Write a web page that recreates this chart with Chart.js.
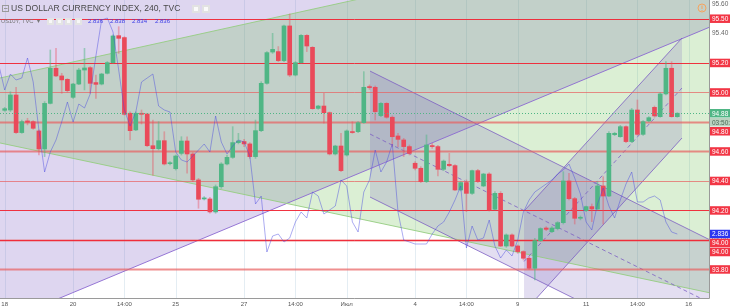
<!DOCTYPE html>
<html>
<head>
<meta charset="utf-8">
<script src="https://cdn.jsdelivr.net/npm/chart.js@4.4.1/dist/chart.umd.min.js"></script>
<style>
  html, body { margin: 0; padding: 0; background: #fff; }
  canvas { display: block; }
</style>
</head>
<body>
<canvas id="chart" width="730" height="308"></canvas>
<script>
// ---- DXY 4h candles ----
const opens = [
  94.879, 94.881, 94.983, 94.728, 94.807, 94.802, 94.739, 94.617, 94.926, 95.164,
  95.112, 95.089, 94.967, 95.057, 95.152, 95.168, 95.067, 95.057, 95.130, 95.202,
  95.385, 95.372, 94.859, 94.746, 94.859, 94.854, 94.639, 94.619, 94.673, 94.517,
  94.483, 94.587, 94.671, 94.583, 94.407, 94.278, 94.278, 94.190, 94.361, 94.515,
  94.560, 94.660, 94.667, 94.651, 94.565, 94.741, 95.062, 95.274, 95.277, 95.216,
  95.451, 95.118, 95.202, 95.387, 95.306, 94.892, 94.908, 94.863, 94.583, 94.637,
  94.576, 94.734, 94.734, 94.795, 95.039, 95.035, 94.843, 94.926, 94.832, 94.705,
  94.678, 94.633, 94.520, 94.486, 94.395, 94.639, 94.633, 94.479, 94.513, 94.504,
  94.339, 94.389, 94.316, 94.470, 94.366, 94.447, 94.208, 94.316, 93.959, 94.034,
  93.959, 93.921, 93.876, 93.808, 93.995, 94.081, 94.056, 94.077, 94.117, 94.400,
  94.280, 94.147, 94.199, 94.226, 94.210, 94.366, 94.298, 94.714, 94.700, 94.768,
  94.667, 94.881, 94.716, 94.807, 94.899, 94.836, 94.990, 95.164, 94.836
];
const highs = [
  94.899, 95.005, 95.035, 94.813, 94.825, 94.809, 94.746, 94.938, 95.288, 95.299,
  95.130, 95.094, 95.062, 95.164, 95.299, 95.175, 95.118, 95.130, 95.209, 95.390,
  95.446, 95.378, 94.868, 94.868, 94.881, 94.859, 94.813, 94.802, 94.734, 94.531,
  94.576, 94.700, 94.700, 94.592, 94.418, 94.294, 94.289, 94.373, 94.524, 94.576,
  94.768, 94.723, 94.682, 94.660, 94.813, 95.073, 95.277, 95.401, 95.311, 95.457,
  95.532, 95.209, 95.392, 95.392, 95.311, 94.913, 94.994, 94.868, 94.642, 94.723,
  94.746, 94.802, 94.802, 95.141, 95.051, 95.044, 94.931, 94.931, 94.841, 94.723,
  94.689, 94.644, 94.531, 94.497, 94.712, 94.655, 94.642, 94.542, 94.587, 94.511,
  94.395, 94.407, 94.474, 94.479, 94.452, 94.456, 94.328, 94.328, 94.041, 94.041,
  93.966, 93.927, 93.887, 94.011, 94.083, 94.090, 94.090, 94.124, 94.463, 94.452,
  94.289, 94.163, 94.230, 94.244, 94.395, 94.429, 94.734, 94.730, 94.777, 94.773,
  94.892, 94.949, 94.809, 94.836, 94.908, 94.999, 95.209, 95.209, 94.863
];
const lows = [
  94.872, 94.870, 94.723, 94.723, 94.780, 94.750, 94.576, 94.565, 94.922, 95.107,
  94.994, 95.003, 94.960, 95.053, 95.017, 94.994, 94.960, 95.051, 95.125, 95.198,
  95.265, 94.847, 94.678, 94.741, 94.786, 94.633, 94.440, 94.610, 94.508, 94.508,
  94.474, 94.576, 94.452, 94.395, 94.215, 94.271, 94.181, 94.181, 94.350, 94.508,
  94.553, 94.651, 94.633, 94.553, 94.553, 94.734, 95.057, 95.265, 95.209, 95.209,
  95.107, 95.112, 95.198, 95.277, 94.886, 94.886, 94.791, 94.576, 94.576, 94.463,
  94.569, 94.723, 94.728, 94.791, 95.021, 94.813, 94.836, 94.825, 94.633, 94.633,
  94.565, 94.576, 94.474, 94.389, 94.389, 94.621, 94.434, 94.470, 94.497, 94.334,
  94.332, 94.192, 94.309, 94.389, 94.361, 94.196, 94.203, 93.955, 93.950, 93.955,
  93.909, 93.864, 93.801, 93.729, 93.989, 94.063, 94.050, 94.068, 94.108, 94.271,
  94.108, 94.136, 94.192, 94.124, 94.203, 94.108, 94.294, 94.707, 94.696, 94.660,
  94.660, 94.709, 94.709, 94.800, 94.832, 94.832, 94.983, 94.832, 94.832
];
const closes = [
  94.890, 94.983, 94.728, 94.802, 94.798, 94.757, 94.617, 94.926, 95.164, 95.112,
  95.085, 95.012, 95.057, 95.152, 95.166, 95.062, 95.055, 95.125, 95.202, 95.383,
  95.367, 94.852, 94.741, 94.859, 94.852, 94.639, 94.619, 94.673, 94.515, 94.522,
  94.569, 94.671, 94.583, 94.407, 94.276, 94.285, 94.190, 94.361, 94.515, 94.560,
  94.660, 94.671, 94.651, 94.565, 94.741, 95.062, 95.270, 95.292, 95.216, 95.451,
  95.118, 95.202, 95.387, 95.315, 94.890, 94.908, 94.863, 94.583, 94.637, 94.470,
  94.739, 94.728, 94.795, 95.035, 95.033, 94.870, 94.926, 94.832, 94.700, 94.682,
  94.633, 94.587, 94.486, 94.395, 94.644, 94.633, 94.479, 94.535, 94.504, 94.339,
  94.389, 94.316, 94.470, 94.395, 94.447, 94.203, 94.316, 93.959, 94.034, 93.959,
  93.921, 93.876, 93.808, 93.995, 94.077, 94.072, 94.081, 94.117, 94.400, 94.280,
  94.147, 94.154, 94.226, 94.210, 94.366, 94.298, 94.723, 94.723, 94.768, 94.667,
  94.881, 94.716, 94.802, 94.829, 94.841, 94.990, 95.164, 94.836, 94.859
];
const lastPriceText = '94.88';

// ---- US10Y overlay (own scale), one value per bar starting at bar -1 ----
const us10yFirstBar = -1;
const us10y = [
  2.920,
  2.908, 2.916, 2.913, 2.914, 2.924, 2.912, 2.888, 2.867, 2.877, 2.883,
  2.892, 2.902, 2.892, 2.901, 2.899, 2.906, 2.925, 2.943, 2.944, 2.937,
  2.918, 2.898, 2.890, 2.897, 2.912, 2.914, 2.916, 2.900, 2.898, 2.897,
  2.877, 2.873, 2.872, 2.875, 2.878, 2.881, 2.877, 2.895, 2.882, 2.876,
  2.880, 2.883, 2.882, 2.875, 2.851, 2.855, 2.827, 2.835, 2.836, 2.832,
  2.834, 2.842, 2.847, 2.844, 2.857, 2.855, 2.846, 2.848, 2.850, 2.863,
  2.860, 2.842, 2.837, 2.857, 2.863, 2.878, 2.867, 2.872, 2.881, 2.847,
  2.833, 2.832, 2.831, 2.831, 2.831, 2.836, 2.840, 2.842, 2.847, 2.853,
  2.860, 2.829, 2.840, 2.833, 2.834, 2.843, 2.830, 2.824, 2.828, 2.825,
  2.833, 2.847, 2.853, 2.857, 2.859, 2.861, 2.863, 2.866, 2.868, 2.871,
  2.864, 2.856, 2.842, 2.838, 2.851, 2.859, 2.850, 2.844, 2.853, 2.861,
  2.867, 2.852, 2.852, 2.854, 2.855, 2.853, 2.842, 2.837, 2.836
];
const us10yOHLC = ['2.836', '2.838', '2.834', '2.836'];

// ---- axes ----
const timeTickBars = [0, 12, 21, 30, 42, 51, 60, 72, 81, 90, 102, 111, 120];
const timeTickLabels = ['18', '20', '14:00', '25', '27', '14:00', 'Июл', '4', '14:00', '9', '11', '14:00', '16'];
const priceTicks = [95.6, 95.4, 95.2, 95.0, 94.8, 94.6, 94.4, 94.2, 94.0, 93.8];

// ---- horizontal levels drawn on the chart ----
const levelPrices = [95.5, 95.2, 95.0, 94.8, 94.6, 94.4, 94.2, 94.0, 94.0, 93.8];
const countdownText = '03:50:37';

// ---- drawings, as [bar, price] anchors ----
const bigChannelLow = [[-0.825, 93.437], [123.74, 95.444]];
const triUpper = [[-2.58, 95.083], [125.49, 96.172]];
const triLower = [[-2.58, 94.672], [125.49, 93.627]];
const fallUpper = [[64.09, 95.145], [123.74, 94.000]];
const fallLower = [[64.09, 94.291], [123.74, 93.146]];
const riseUpper = [[91.11, 94.196], [118.82, 95.369]];
const riseLower = [[91.11, 93.512], [118.82, 94.691]];

// styles
const UP = '#4fb685', DOWN = '#ea4a5a';
const FONT = '"Liberation Sans", Arial, sans-serif';
const brightLevel = [true, true, false, false, false, false, true, false, true, false];
const thickLevel = [false, false, false, true, true, false, false, true, false, true];

const bars = opens.map((_, i) => i);
const isUp = i => closes[i] >= opens[i];

function P(chart, b, p) {
  return [chart.scales.x.getPixelForValue(b), chart.scales.y.getPixelForValue(p)];
}
function tracePath(ctx, chart, pts) {
  ctx.beginPath();
  pts.forEach((q, k) => {
    const [X, Y] = P(chart, q[0], q[1]);
    if (k) ctx.lineTo(X, Y); else ctx.moveTo(X, Y);
  });
}
function fillPoly(ctx, chart, pts, color) {
  tracePath(ctx, chart, pts);
  ctx.closePath();
  ctx.fillStyle = color;
  ctx.fill();
}
function line(ctx, chart, a, b, color, width, dash) {
  tracePath(ctx, chart, [a, b]);
  ctx.strokeStyle = color;
  ctx.lineWidth = width;
  ctx.setLineDash(dash || []);
  ctx.stroke();
  ctx.setLineDash([]);
}
const mid = (a, b) => [[a[0][0], (a[0][1] + b[0][1]) / 2], [a[1][0], (a[1][1] + b[1][1]) / 2]];

const backgroundPlugin = {
  id: 'background',
  beforeDatasetsDraw(chart) {
    const { ctx, chartArea: a } = chart;
    ctx.save();
    ctx.beginPath();
    ctx.rect(a.left, a.top, a.right - a.left, a.bottom - a.top);
    ctx.clip();

    // time grid
    ctx.strokeStyle = '#e4edf3';
    ctx.lineWidth = 1;
    timeTickBars.forEach(b => {
      const X = Math.round(chart.scales.x.getPixelForValue(b)) + 0.5;
      ctx.beginPath(); ctx.moveTo(X, a.top); ctx.lineTo(X, a.bottom); ctx.stroke();
    });

    // wide purple channel (only its lower edge is visible)
    fillPoly(ctx, chart, [bigChannelLow[0], bigChannelLow[1], [bigChannelLow[1][0], 97], [bigChannelLow[0][0], 97]], 'rgba(132,104,200,0.27)');
    // green triangle
    fillPoly(ctx, chart, [triUpper[0], triUpper[1], triLower[1], triLower[0]], 'rgba(105,190,75,0.24)');
    // falling channel
    fillPoly(ctx, chart, [fallUpper[0], fallUpper[1], fallLower[1], fallLower[0]], 'rgba(115,90,185,0.2)');
    // rising channel
    fillPoly(ctx, chart, [riseUpper[0], riseUpper[1], riseLower[1], riseLower[0]], 'rgba(115,90,185,0.2)');

    line(ctx, chart, bigChannelLow[0], bigChannelLow[1], 'rgba(140,105,210,0.9)', 1);
    line(ctx, chart, triUpper[0], triUpper[1], 'rgba(150,205,130,0.9)', 1);
    line(ctx, chart, triLower[0], triLower[1], 'rgba(150,205,130,0.9)', 1);
    const chCol = 'rgba(125,95,195,0.8)';
    [[fallUpper, fallLower], [riseUpper, riseLower]].forEach(([u, l]) => {
      line(ctx, chart, u[0], u[1], chCol, 1);
      line(ctx, chart, l[0], l[1], chCol, 1);
      const m = mid(u, l);
      line(ctx, chart, m[0], m[1], chCol, 1, [4, 3]);
    });

    // horizontal levels
    levelPrices.forEach((p, k) => {
      const Y = Math.round(chart.scales.y.getPixelForValue(p)) + 0.5;
      ctx.strokeStyle = brightLevel[k] ? 'rgba(240,40,55,0.95)' : 'rgba(232,95,95,0.7)';
      ctx.lineWidth = thickLevel[k] ? 2 : 1;
      ctx.beginPath(); ctx.moveTo(a.left, Y); ctx.lineTo(a.right, Y); ctx.stroke();
    });
    ctx.restore();
  }
};

function box(ctx, x, y, w, h, fill) {
  ctx.fillStyle = fill;
  ctx.fillRect(x, y - h / 2, w, h);
}

const overlayPlugin = {
  id: 'overlay',
  afterDraw(chart) {
    const { ctx, chartArea: a } = chart;
    const ys = chart.scales.y, y2 = chart.scales.y2, xs = chart.scales.x;
    ctx.save();

    // last price dotted line
    const last = closes.length - 1;
    const lastY = Math.round(ys.getPixelForValue(closes[last])) + 0.5;
    ctx.strokeStyle = UP;
    ctx.lineWidth = 1;
    ctx.setLineDash([1, 2]);
    ctx.beginPath(); ctx.moveTo(a.left, lastY); ctx.lineTo(a.right, lastY); ctx.stroke();
    ctx.setLineDash([]);

    // axis lines
    ctx.strokeStyle = '#9a9a9a';
    ctx.beginPath();
    ctx.moveTo(a.left, a.bottom + 0.5); ctx.lineTo(a.right + 0.5, a.bottom + 0.5);
    ctx.moveTo(a.right + 0.5, a.top); ctx.lineTo(a.right + 0.5, a.bottom + 0.5);
    ctx.stroke();

    // time labels
    ctx.font = '6px ' + FONT;
    ctx.fillStyle = '#555';
    ctx.textAlign = 'center';
    ctx.textBaseline = 'middle';
    timeTickBars.forEach((b, k) => ctx.fillText(timeTickLabels[k], xs.getPixelForValue(b), a.bottom + 6));

    // price ticks
    ctx.textAlign = 'left';
    ctx.font = '6.5px ' + FONT;
    ctx.fillStyle = '#666';
    priceTicks.forEach(p => ctx.fillText(p.toFixed(2), a.right + 3, ys.getPixelForValue(p)));

    // price scale labels; the last-price tag carries the countdown right under it
    const H = 9;
    const labels = levelPrices.map(p => ({ y: ys.getPixelForValue(p), h: H, parts: [[p.toFixed(2), '#f23645', '#fff']] }));
    labels.push({ y: ys.getPixelForValue(closes[last]), h: 2 * H, parts: [[lastPriceText, UP, '#fff'], [countdownText, '#b9d3c0', '#4d6a57']] });
    labels.push({ y: y2.getPixelForValue(us10y[us10y.length - 1]), h: H, parts: [[us10y[us10y.length - 1].toFixed(3), '#2a35f0', '#fff']] });
    labels.sort((p, q) => p.y - q.y);
    for (let k = 1; k < labels.length; k++) {
      const prev = labels[k - 1];
      const minY = prev.y + prev.h - H / 2 + H / 2;
      if (labels[k].y < minY) labels[k].y = minY;
    }
    labels.forEach(l => {
      l.parts.forEach(([text, bg, fg], j) => {
        const y = l.y + j * H;
        box(ctx, a.right + 1, y, 22, H - 0.5, bg);
        ctx.fillStyle = fg;
        ctx.fillText(text, a.right + 3, y + 0.5);
      });
    });

    // legend, line 1
    ctx.strokeStyle = '#9a9a9a';
    ctx.strokeRect(2.5, 5.5, 6, 6);
    ctx.beginPath(); ctx.moveTo(4, 8.5); ctx.lineTo(7.5, 8.5); ctx.stroke();
    ctx.font = '8.6px ' + FONT;
    ctx.fillStyle = '#4a4a4a';
    ctx.fillText('US DOLLAR CURRENCY INDEX, 240, TVC', 11, 9);
    [192, 202].forEach(x => { ctx.fillStyle = '#e2e2e2'; ctx.fillRect(x, 5, 8, 8); ctx.fillStyle = '#fafafa'; ctx.fillRect(x + 2, 7, 4, 4); });

    // legend, line 2
    ctx.font = '5.8px ' + FONT;
    ctx.fillStyle = '#777';
    ctx.fillText('US10Y, TVC', 1, 21);
    ctx.fillText('\u25BE', 37, 21);
    [47, 56, 65, 75].forEach(x => { ctx.fillStyle = '#e4e4e4'; ctx.fillRect(x, 18, 7, 7); ctx.fillStyle = '#f7f7f7'; ctx.fillRect(x + 2, 20, 3, 3); });
    ctx.font = '6px ' + FONT;
    ctx.fillStyle = '#3a3ae6';
    [88, 110, 132, 155].forEach((x, k) => ctx.fillText(us10yOHLC[k], x, 21));

    // alert icon
    ctx.strokeStyle = '#f4a460';
    ctx.lineWidth = 1;
    ctx.beginPath(); ctx.arc(702, 8, 4, 0, Math.PI * 2); ctx.stroke();
    ctx.fillStyle = '#f4a460';
    ctx.fillRect(701.5, 5.5, 1, 3.5);
    ctx.fillRect(701.5, 10, 1, 1);
    ctx.restore();
  }
};

new Chart(document.getElementById('chart'), {
  type: 'bar',
  data: {
    datasets: [
      {
        type: 'line',
        yAxisID: 'y2',
        data: us10y.map((v, k) => ({ x: us10yFirstBar + k, y: v })),
        borderColor: 'rgba(70,70,225,0.45)',
        borderWidth: 1,
        pointRadius: 0,
        tension: 0,
        order: 0
      },
      {
        data: bars.map(i => ({ x: i, y: [opens[i], closes[i]] })),
        backgroundColor: bars.map(i => isUp(i) ? UP : DOWN),
        barThickness: 4,
        minBarLength: 1,
        grouped: false,
        order: 1
      },
      {
        data: bars.map(i => ({ x: i, y: [lows[i], highs[i]] })),
        backgroundColor: bars.map(i => isUp(i) ? 'rgba(79,182,133,0.5)' : 'rgba(234,74,90,0.4)'),
        barThickness: 1,
        grouped: false,
        order: 2
      }
    ]
  },
  options: {
    responsive: false,
    animation: false,
    layout: { padding: { left: 0, top: 0, right: 21, bottom: 10 } },
    plugins: { legend: { display: false }, tooltip: { enabled: false } },
    scales: {
      x: { type: 'linear', min: -0.8246, max: 123.56, offset: false, display: false },
      y: { min: 93.6065, max: 95.6268, display: false },
      y2: { min: 2.804, max: 2.953, display: false }
    }
  },
  plugins: [backgroundPlugin, overlayPlugin]
});
</script>
</body>
</html>
